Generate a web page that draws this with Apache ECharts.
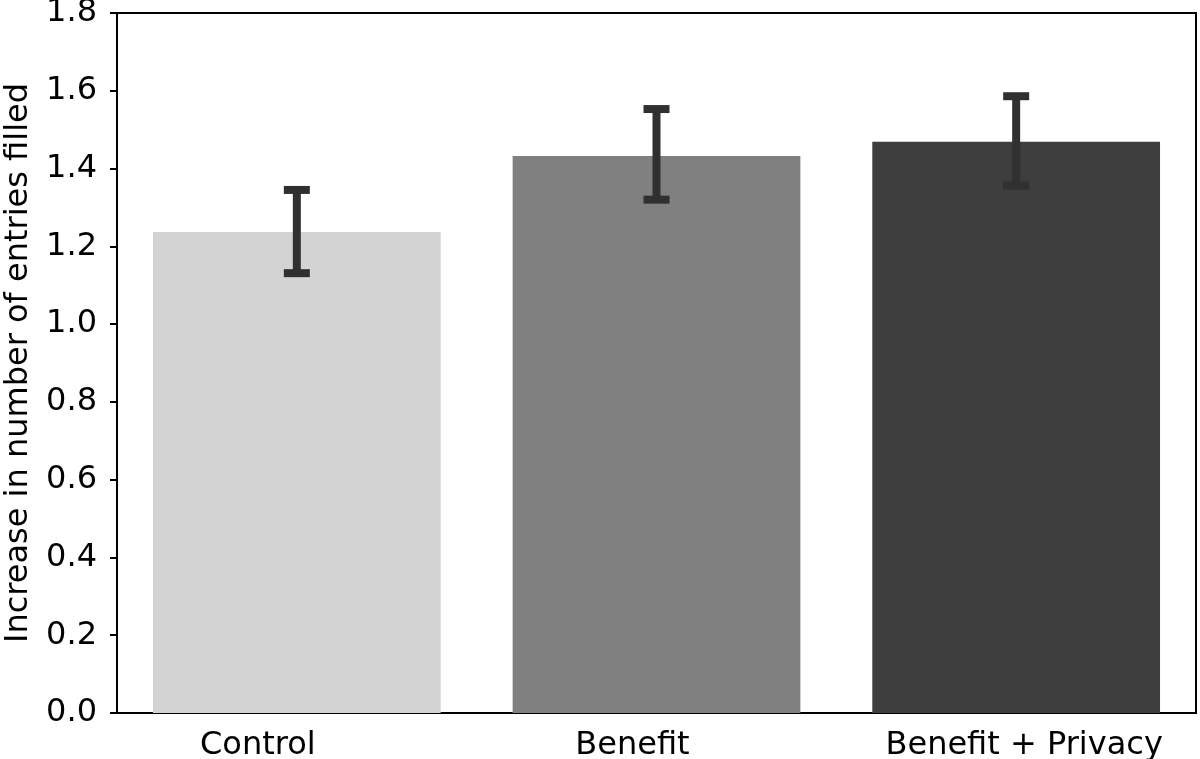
<!DOCTYPE html>
<html><head><meta charset="utf-8">
<script src="https://cdn.jsdelivr.net/npm/echarts@6/dist/echarts.min.js"></script>
<style>html,body{margin:0;padding:0;background:#fff}#c{width:1200px;height:759px}</style>
</head><body><div id="c"></div>
<script>
const categories = ['Control', 'Benefit', 'Benefit + Privacy'];
const means = [1.237, 1.432, 1.469];
const errLow = [1.131, 1.320, 1.356];
const errHigh = [1.345, 1.553, 1.586];
const barColors = ['#d3d3d3', '#808080', '#3e3e3e'];
const yTicks = [0.0, 0.2, 0.4, 0.6, 0.8, 1.0, 1.2, 1.4, 1.6, 1.8];
// horizontal nudge of each category label in px (layout only)
const labelShift = [-39, -24, 8];

const chart = echarts.init(document.getElementById('c'), null, {renderer: 'canvas'});
const font = 'DejaVu Sans';
chart.setOption({
  animation: false,
  backgroundColor: '#fff',
  grid: {left: 117, right: 4, top: 13, bottom: 46, containLabel: false, outerBoundsMode: 'none',
    show: true, borderColor: '#000', borderWidth: 2, backgroundColor: 'transparent'},
  xAxis: {
    type: 'category',
    data: categories.map((c, i) => ({
      value: c,
      textStyle: {padding: labelShift[i] < 0 ? [0, -2 * labelShift[i], 0, 0] : [0, 0, 0, 2 * labelShift[i]]}
    })),
    axisLine: {show: true, lineStyle: {color: '#000', width: 2}},
    axisTick: {show: false},
    axisLabel: {color: '#000', fontFamily: font, fontSize: 32, margin: 17, interval: 0, hideOverlap: false}
  },
  yAxis: {
    type: 'value', min: 0, max: 1.8, interval: 0.2,
    name: 'Increase in number of entries filled',
    nameLocation: 'middle', nameGap: 82, nameRotate: 90,
    nameTextStyle: {color: '#000', fontFamily: font, fontSize: 32},
    axisLine: {show: true, lineStyle: {color: '#000', width: 2}},
    axisTick: {show: true, length: 7, lineStyle: {color: '#000', width: 2}},
    splitLine: {show: false},
    axisLabel: {color: '#000', fontFamily: font, fontSize: 32, margin: 20,
      formatter: v => v.toFixed(1)}
  },
  series: [
    {
      type: 'bar', barWidth: '80%',
      data: means.map((v, i) => ({value: v, itemStyle: {color: barColors[i]}}))
    },
    {
      type: 'custom', z: 10,
      data: categories.map((c, i) => [i, errLow[i], errHigh[i]]),
      renderItem: function (params, api) {
        const x = api.value(0);
        const lo = api.coord([x, api.value(1)]);
        const hi = api.coord([x, api.value(2)]);
        const hw = 13;
        const st = {stroke: '#303030', lineWidth: 8};
        return {type: 'group', children: [
          {type: 'line', shape: {x1: lo[0], y1: lo[1], x2: hi[0], y2: hi[1]}, style: st},
          {type: 'line', shape: {x1: lo[0] - hw, y1: lo[1], x2: lo[0] + hw, y2: lo[1]}, style: st},
          {type: 'line', shape: {x1: hi[0] - hw, y1: hi[1], x2: hi[0] + hw, y2: hi[1]}, style: st}
        ]};
      }
    }
  ]
});
</script></body></html>
